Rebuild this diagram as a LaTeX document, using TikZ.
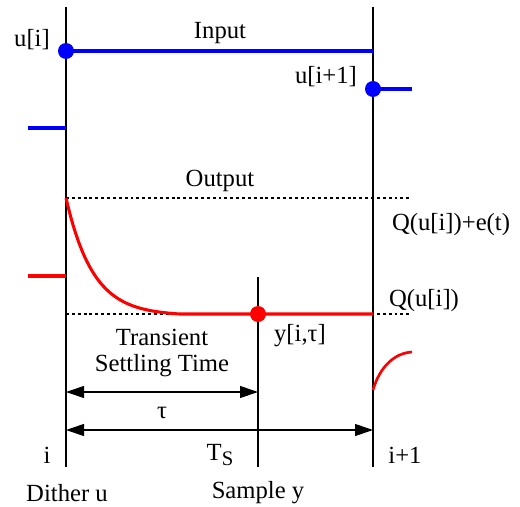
\documentclass[tikz,border=0pt]{standalone}
\usepackage{fontspec}
\setmainfont{Liberation Serif}
\usetikzlibrary{arrows.meta}

\begin{document}
\begin{tikzpicture}[x=0.75pt,y=-0.75pt,font=\fontsize{18.5}{21}\selectfont,
    input/.style={blue,line width=2.3pt},
    output/.style={red,line width=2.3pt},
    level/.style={dash pattern=on 2.2pt off 2.2pt,line width=0.8pt},
    span/.style={{Triangle[length=13.5pt,width=9pt]}-{Triangle[length=13.5pt,width=9pt]},line width=0.8pt}]
  \useasboundingbox (0,0) rectangle (520,506);
  % time axis lines
  \coordinate (iTop) at (66,7);    \coordinate (iBot) at (66,467);
  \coordinate (jTop) at (373,7);   \coordinate (jBot) at (373,467);
  \coordinate (sTop) at (258,277); \coordinate (sBot) at (258,467);
  \draw[line width=0.8pt] (iTop) -- (iBot) (jTop) -- (jBot) (sTop) -- (sBot);
  % input
  \coordinate (uPrev0) at (28,128); \coordinate (uPrev1) at (66,128);
  \coordinate (uEnd) at (373,51);
  \coordinate (uNext) at (373,89); \coordinate (uNextEnd) at (412,89);
  \draw[input] (uPrev0) -- (uPrev1);
  \draw[input] (66,51) -- (uEnd);
  \draw[input] (uNext) -- (uNextEnd);
  \fill[blue] (66,51) circle (6pt) (uNext) circle (6pt);
  \node (ui) at (32,40) {u[i]};
  \node (inp) at (220,33) {Input};
  \node (ui1) at (326,77) {u[i+1]};
  % output
  \node (outp) at (220,181) {Output};
  \coordinate (hiL) at (66,198); \coordinate (hiR) at (412,198);
  \coordinate (loL) at (66,314); \coordinate (loR) at (412,314);
  \draw[level] (hiL) -- (hiR);
  \draw[level] (loL) -- (loR);
  \node (qe) at (451,225) {Q(u[i])+e(t)};
  \node (q) at (424,301) {Q(u[i])};
  \coordinate (yPrev0) at (28,276); \coordinate (yPrev1) at (66,276);
  \draw[output] (yPrev0) -- (yPrev1);
  \draw[output] plot[domain=66:180,samples=50]
    (\x,{314-116*(exp(-(\x-66)/27)-0.0147)/0.9853}) -- (373,314);
  \fill[red] (258,314) circle (6pt);
  \draw[output,line width=2pt] (373,390) .. controls (380,366) and (395,353) .. (412,352);
  \node (yit) at (300,336) {y[i,τ]};
  \node[align=center] (trans) at (162,353) {Transient\\[-1pt]Settling Time};
  % spans
  \coordinate (tauL) at (66,392); \coordinate (tauR) at (258,392);
  \coordinate (tsL) at (66,430);  \coordinate (tsR) at (373,430);
  \draw[span] (tauL) -- (tauR);
  \draw[span] (tsL) -- (tsR);
  \node (tau) at (162,413) {τ};
  \node (ts) at (220,455) {T\raisebox{-0.45ex}{\fontsize{15.5}{16}\selectfont S}};
  \node (ilab) at (47,455) {i};
  \node (i1lab) at (405,455) {i+1};
  \node[inner sep=1pt] (dith) at (67,493) {Dither u};
  \node[inner sep=1pt] (samp) at (258,493) {Sample y};
\end{tikzpicture}
\end{document}
